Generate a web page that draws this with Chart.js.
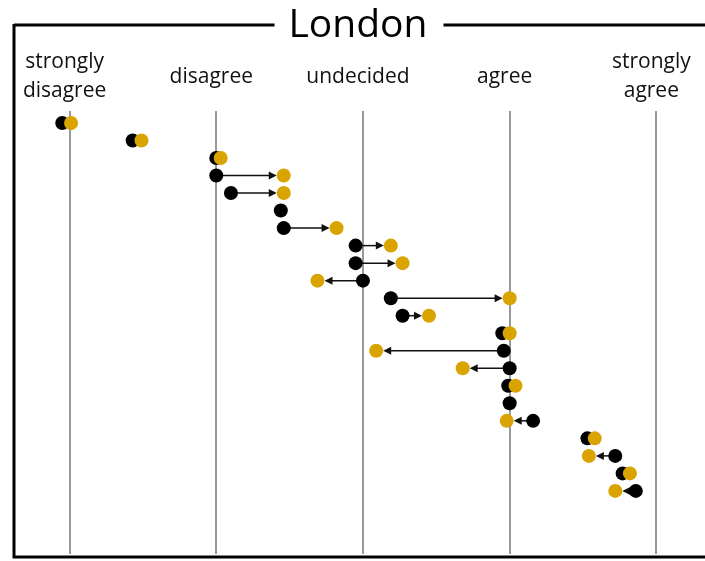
<!DOCTYPE html>
<html>
<head>
<meta charset="utf-8">
<title>London</title>
<script src="https://cdn.jsdelivr.net/npm/chart.js@4.4.0/dist/chart.umd.min.js"></script>
<style>
html, body { margin: 0; padding: 0; background: #fff; }
#wrap { width: 705px; height: 561px; }
</style>
</head>
<body>
<div id="wrap"><canvas id="myChart" width="705" height="561"></canvas></div>
<script>
// answer scale (1 = strongly disagree ... 5 = strongly agree)
var categories = [['strongly', 'disagree'], 'disagree', 'undecided', 'agree', ['strongly', 'agree']];
var tickValues = [1, 2, 3, 4, 5];
// one row per respondent, top to bottom
var rows = [1, 2, 3, 4, 5, 6, 7, 8, 9, 10, 11, 12, 13, 14, 15, 16, 17, 18, 19, 20, 21, 22];
// before (black) and after (gold)
var beforeVals = [0.95, 1.43, 2.0, 2.0, 2.1, 2.44, 2.46, 2.95, 2.95, 3.0, 3.19, 3.27, 3.95, 3.96, 4.0, 3.99, 4.0, 4.16, 4.53, 4.72, 4.77, 4.86];
var afterVals = [1.01, 1.49, 2.03, 2.46, 2.46, null, 2.82, 3.19, 3.27, 2.69, 4.0, 3.45, 4.0, 3.09, 3.68, 4.04, null, 3.98, 4.58, 4.54, 4.82, 4.72];

var BLACK = '#000000';
var GOLD = '#D9A300';
var R = 7;

function pts(vals) {
	var out = [];
	for (var i = 0; i < rows.length; i++) {
		if (vals[i] !== null) out.push({x: vals[i], y: rows[i]});
	}
	return out;
}

// frame with the title sitting in the top border
var framePlugin = {
	id: 'frame',
	beforeDraw: function(chart) {
		var ctx = chart.ctx;
		ctx.save();
		ctx.font = '39px "Open Sans"';
		var tw = ctx.measureText('London').width;
		var cx = 358;
		ctx.strokeStyle = '#000';
		ctx.lineWidth = 3;
		ctx.beginPath();
		ctx.moveTo(14, 25);
		ctx.lineTo(cx - tw / 2 - 14, 25);
		ctx.moveTo(cx + tw / 2 + 16, 25);
		ctx.lineTo(705, 25);
		ctx.moveTo(14, 24);
		ctx.lineTo(14, 557);
		ctx.lineTo(705, 557);
		ctx.stroke();
		ctx.fillStyle = '#000';
		ctx.textAlign = 'center';
		ctx.textBaseline = 'alphabetic';
		ctx.fillText('London', cx, 37);
		ctx.restore();
	}
};

// arrows from before to after
var arrowPlugin = {
	id: 'arrows',
	beforeDatasetsDraw: function(chart) {
		var ctx = chart.ctx;
		var xs = chart.scales.x, ys = chart.scales.y;
		ctx.save();
		ctx.strokeStyle = '#111';
		ctx.fillStyle = '#111';
		ctx.lineWidth = 1.5;
		for (var i = 0; i < rows.length; i++) {
			if (afterVals[i] === null) continue;
			var x0 = xs.getPixelForValue(beforeVals[i]);
			var x1 = xs.getPixelForValue(afterVals[i]);
			var y = ys.getPixelForValue(rows[i]);
			var d = x1 - x0;
			if (Math.abs(d) < 2.2 * R) continue;
			var dir = d > 0 ? 1 : -1;
			var tip = x1 - dir * R;
			ctx.beginPath();
			ctx.moveTo(x0, y);
			ctx.lineTo(tip - dir * 6, y);
			ctx.stroke();
			ctx.beginPath();
			ctx.moveTo(tip, y);
			ctx.lineTo(tip - dir * 8, y - 4);
			ctx.lineTo(tip - dir * 8, y + 4);
			ctx.closePath();
			ctx.fill();
		}
		ctx.restore();
	}
};

var ctx = document.getElementById('myChart');
var myChart = new Chart(ctx, {
	type: 'scatter',
	data: {
		datasets: [
			{label: 'after', data: pts(afterVals), backgroundColor: GOLD, borderWidth: 0, pointRadius: R, pointHoverRadius: R},
			{label: 'before', data: pts(beforeVals), backgroundColor: BLACK, borderWidth: 0, pointRadius: R, pointHoverRadius: R}
		]
	},
	options: {
		responsive: false,
		animation: false,
		layout: {padding: {left: 13, right: 2, top: 14, bottom: 4}},
		plugins: {legend: {display: false}, tooltip: {enabled: false}, title: {display: false}},
		scales: {
			x: {
				type: 'linear',
				position: 'top',
				min: 0.6143,
				max: 5.284,
				afterBuildTicks: function(scale) {
					scale.ticks = tickValues.map(function(v) { return {value: v}; });
				},
				afterFit: function(scale) {
					// labels fit inside the frame, no extra side padding
					scale.paddingLeft = 0;
					scale.paddingRight = 0;
				},
				ticks: {
					color: '#111',
					font: {family: '"Open Sans"', size: 21, lineHeight: 1.35},
					padding: 20,
					labelOffset: -5,
					crossAlign: 'center',
					callback: function(v) { return categories[tickValues.indexOf(v)]; }
				},
				grid: {color: '#999', lineWidth: 2, drawTicks: false},
				border: {display: false}
			},
			y: {
				type: 'linear',
				display: false,
				reverse: true,
				min: 0.3,
				max: 25.6
			}
		}
	},
	plugins: [framePlugin, arrowPlugin]
});
</script>
</body>
</html>
